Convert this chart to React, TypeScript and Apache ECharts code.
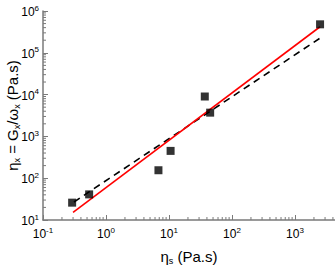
import React, { useEffect, useRef } from "react";
import * as echarts from "echarts";

const pointsX = [0.29, 0.54, 6.8, 10.6, 37, 45, 2500];
const pointsY = [26, 41, 155, 450, 9000, 3700, 480000];
const redFitX = [0.3, 2500];
const redFitY = [15.3, 420000];
const dashFitX = [0.31, 2500];
const dashFitY = [27, 225000];
const xDecades = [-1, 0, 1, 2, 3];
const yDecades = [1, 2, 3, 4, 5];
const minorMultipliers = [2, 3, 4, 5, 6, 7, 8, 9];

const FONT = "Liberation Sans, Arial, sans-serif";
const AXIS_COLOR = "#7a7a7a";

function powLabel(v: number) {
  const l = Math.log10(v);
  if (Math.abs(l - Math.round(l)) > 1e-6) return "";
  return `{b|10}{s|${Math.round(l)}}`;
}

const richLabel = {
  b: { fontSize: 12, fontFamily: FONT, color: "#000", verticalAlign: "bottom", lineHeight: 14 },
  s: { fontSize: 8, fontFamily: FONT, color: "#000", verticalAlign: "top", lineHeight: 14, padding: [0, 0, 6, 0] },
};

const nameRich = {
  e: { fontSize: 15, fontFamily: FONT, color: "#000" },
  sub: { fontSize: 9, fontFamily: FONT, color: "#000", padding: [8, 0, 0, 0] },
  t: { fontSize: 15, fontFamily: FONT, color: "#000" },
};

export default function App() {
  const ref = useRef<HTMLDivElement>(null);
  useEffect(() => {
    if (!ref.current) return;
    const chart = echarts.init(ref.current, undefined, { renderer: "svg" });
    const xMinor: number[][] = [];
    xDecades.forEach((d) => minorMultipliers.forEach((m) => {
      const v = m * Math.pow(10, d);
      if (v < 4315) xMinor.push([v, 10]);
    }));
    const yMinor: number[][] = [];
    yDecades.forEach((d) => minorMultipliers.forEach((m) => yMinor.push([0.1, m * Math.pow(10, d)])));

    chart.setOption({
      animation: false,
      grid: { left: 43, right: 0, top: 11, bottom: 47, containLabel: false, outerBoundsMode: "none" },
      xAxis: {
        type: "log",
        logBase: 10,
        min: 0.1,
        max: 4315,
        axisLine: { lineStyle: { color: AXIS_COLOR, width: 1.5 } },
        axisTick: { inside: true, length: 5, lineStyle: { color: AXIS_COLOR } },
        splitLine: { show: false },
        axisLabel: { formatter: powLabel, rich: richLabel, margin: 6, showMaxLabel: false },
        name: "{e|η}{sub|s}{t| (Pa.s)}",
        nameLocation: "middle",
        nameGap: 28,
        nameMoveOverlap: false,
        nameTextStyle: { rich: nameRich },
      },
      yAxis: {
        type: "log",
        logBase: 10,
        min: 10,
        max: 1000000,
        axisLine: { show: true, lineStyle: { color: AXIS_COLOR, width: 1.5 } },
        axisTick: { show: true, inside: true, length: 5, lineStyle: { color: AXIS_COLOR } },
        splitLine: { show: false },
        axisLabel: { formatter: powLabel, rich: richLabel, margin: 4 },
        name: "{e|η}{sub|x}{t| = G}{sub|x}{t|/ω}{sub|x}{t| (Pa.s)}",
        nameLocation: "middle",
        nameRotate: 90,
        nameGap: 22,
        nameMoveOverlap: false,
        nameTextStyle: { rich: nameRich },
      },
      series: [
        {
          type: "custom",
          silent: true,
          clip: false,
          data: xMinor,
          renderItem: (params: any, api: any) => {
            const p = api.coord([api.value(0), api.value(1)]);
            return {
              type: "line",
              shape: { x1: p[0], y1: p[1], x2: p[0], y2: p[1] - 3 },
              style: { stroke: AXIS_COLOR, lineWidth: 1 },
            };
          },
        },
        {
          type: "custom",
          silent: true,
          clip: false,
          data: yMinor,
          renderItem: (params: any, api: any) => {
            const p = api.coord([api.value(0), api.value(1)]);
            return {
              type: "line",
              shape: { x1: p[0], y1: p[1], x2: p[0] + 3, y2: p[1] },
              style: { stroke: AXIS_COLOR, lineWidth: 1 },
            };
          },
        },
        {
          type: "line",
          data: dashFitX.map((x, i) => [x, dashFitY[i]]),
          showSymbol: false,
          lineStyle: { color: "#000", width: 1.6, type: [7, 5] },
          z: 3,
        },
        {
          type: "line",
          data: redFitX.map((x, i) => [x, redFitY[i]]),
          showSymbol: false,
          lineStyle: { color: "#ff0000", width: 1.6 },
          z: 4,
        },
        {
          type: "scatter",
          data: pointsX.map((x, i) => [x, pointsY[i]]),
          symbol: "rect",
          symbolSize: 8,
          itemStyle: { color: "#000" },
          z: 5,
        },
      ],
    });
    return () => chart.dispose();
  }, []);
  return (
    <div
      ref={ref}
      style={{ position: "fixed", left: 0, top: 0, width: 335, height: 267, background: "#fff" }}
    />
  );
}
